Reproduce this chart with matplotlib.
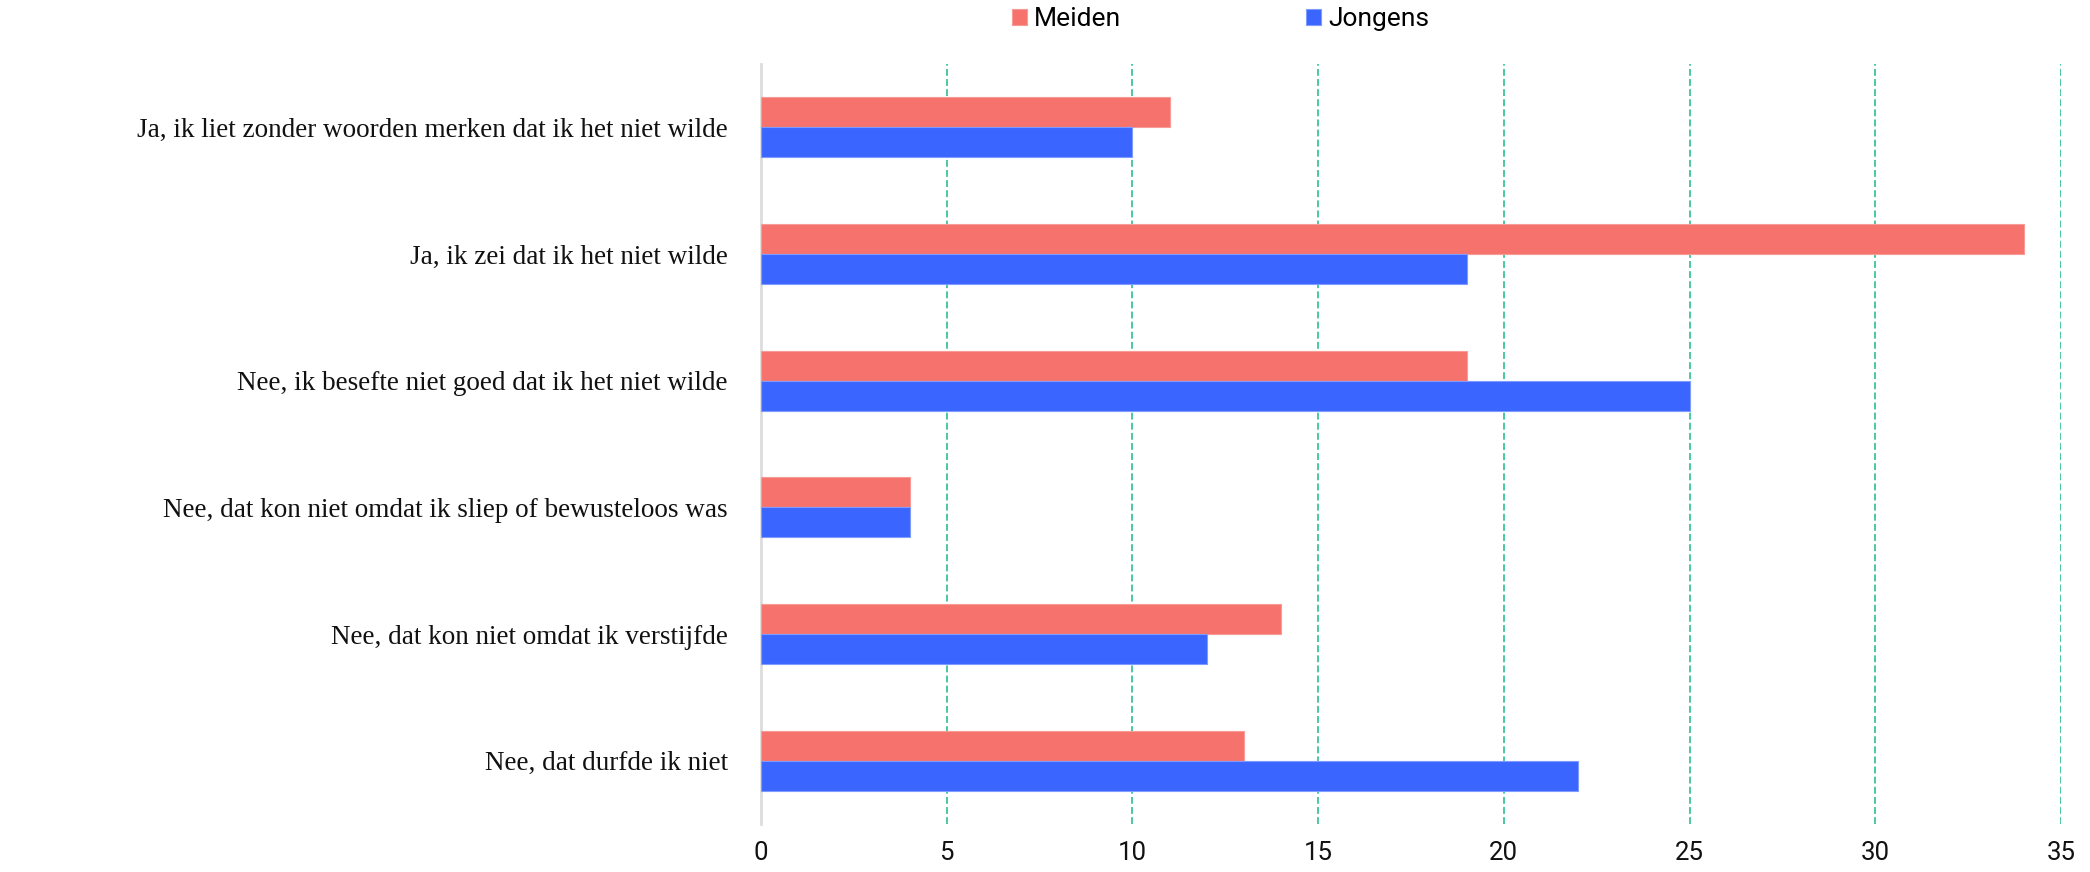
import matplotlib
matplotlib.use("Agg")
import matplotlib.pyplot as plt
import numpy as np

# Gegevens
categorieen = [
    "Ja, ik liet zonder woorden merken dat ik het niet wilde",
    "Ja, ik zei dat ik het niet wilde",
    "Nee, ik besefte niet goed dat ik het niet wilde",
    "Nee, dat kon niet omdat ik sliep of bewusteloos was",
    "Nee, dat kon niet omdat ik verstijfde",
    "Nee, dat durfde ik niet",
]
meiden = [11, 34, 19, 4, 14, 13]
jongens = [10, 19, 25, 4, 12, 22]
x_ticks = [0, 5, 10, 15, 20, 25, 30, 35]

kleur_meiden = "#F5736C"
kleur_jongens = "#3B65FF"
kleur_grid = "#3CC49A"

W, H = 2090, 872
fig = plt.figure(figsize=(W / 100, H / 100), dpi=100)
ax = fig.add_axes([761 / W, 1 - 824 / H, (2061 - 761) / W, (824 - 64) / H])

y = np.arange(len(categorieen))
h = 0.236
b1 = ax.barh(y - h / 2, meiden, height=h, color=kleur_meiden,
             edgecolor="#F89A95", linewidth=0.8, label="Meiden", zorder=3)
b2 = ax.barh(y + h / 2, jongens, height=h, color=kleur_jongens,
             edgecolor="#7F9BFF", linewidth=0.8, label="Jongens", zorder=3)

ax.set_ylim(len(categorieen) - 0.5, -0.5)
ax.set_xlim(0, 35)
ax.set_xticks(x_ticks)
ax.set_xticklabels([str(t) for t in x_ticks], fontfamily="Roboto",
                   fontsize=18.5, color="#111111")
ax.set_yticks(y)
ax.set_yticklabels(categorieen, fontfamily="Liberation Serif", fontsize=19.5,
                   color="#111111")
ax.tick_params(axis="x", length=0, pad=12)
ax.tick_params(axis="y", length=0, pad=24)

# grid verticaal, gestippeld
for t in x_ticks[1:]:
    ax.axvline(t, color=kleur_grid, linestyle=(0, (3.8, 1.8)), linewidth=1.3,
               zorder=1)

for s in ["top", "right", "bottom"]:
    ax.spines[s].set_visible(False)
ax.spines["left"].set_color("#DDDDDD")
ax.spines["left"].set_linewidth(2)

fig.legend(handles=[b1, b2], labels=["Meiden", "Jongens"], ncol=2,
           loc="center left", bbox_to_anchor=(1012 / W, 1 - 19 / H),
           frameon=False, borderpad=0, borderaxespad=0,
           handlelength=0.57, handleheight=0.57, handletextpad=0.27,
           columnspacing=7.0, prop={"family": "Roboto", "size": 19})

fig.savefig("out.png", dpi=100)
